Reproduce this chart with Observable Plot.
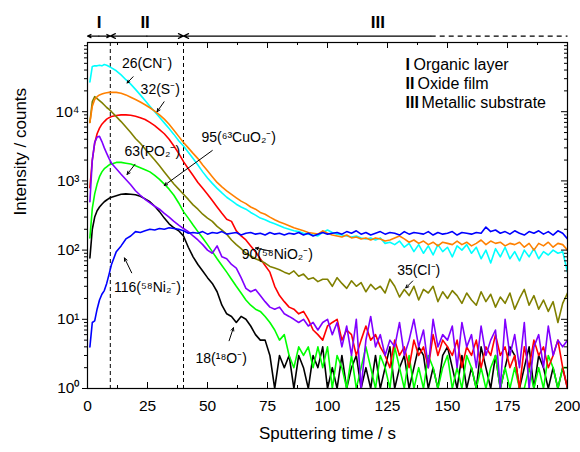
<!DOCTYPE html>
<html><head><meta charset="utf-8">
<script src="https://cdn.jsdelivr.net/npm/d3@7"></script>
<script src="https://cdn.jsdelivr.net/npm/@observablehq/plot@0.6"></script>
<style>body{margin:0;background:#fff;} svg{font-family:"Liberation Sans",Arial,sans-serif;}</style>
</head><body><div id="chart"></div>
<script>
// time axis (s): 1..10 every second, then every 2 s up to 200
const time = [...d3.range(1, 11), ...d3.range(12, 201, 2)];

const cn = [27000,45000,46000,46000,47000,46000,48000,47000,45000,43000,
 39000,34000,29000,25000,21000,17500,14500,12000,10000,8300,
 6900,5700,4700,3800,3200,2600,2100,1700,1350,1100,
 920,780,670,580,520,460,420,390,350,320,
 290,275,255,240,225,210,200,190,185,175,
 170,165,160,180,195,180,170,165,160,155,
 160,150,145,150,140,150,125,130,120,135,
 110,125,95,120,90,115,85,120,95,110,
 80,115,100,120,90,110,75,100,65,105,
 80,110,75,95,70,100,80,105,75,95,
 85,100,90,95,48];
const s32 = [7000,12000,15000,16500,17500,18000,18500,18800,19000,19000,
 19000,18500,17500,16200,15000,13800,12600,11400,10200,9000,
 7800,6600,5400,4400,3600,3000,2500,2100,1700,1400,
 1150,950,820,720,640,570,510,470,420,390,
 350,330,300,275,255,240,225,210,200,190,
 180,175,170,190,175,165,160,155,165,150,
 155,145,150,140,150,145,135,140,150,160,
 145,130,140,125,135,120,130,115,130,125,
 120,135,120,130,115,125,140,120,135,125,
 130,115,125,120,130,110,125,100,125,115,
 130,110,125,120,100];
const nio2 = [800,2000,3500,4800,5800,6600,7200,7800,8200,8500,
 8800,9000,9000,8900,8600,8200,7700,7000,6300,5500,
 4800,4000,3200,2500,1900,1500,1200,950,780,640,
 520,420,340,280,260,190,160,140,115,95,
 75,60,48,30,22,18,15,14,12,13,
 10,7,6,5,8,9,10,5,7,6,
 3,5,8,5,6,4,3,2,5,3,
 4,2,5,3,4,2,6,3,5,4,
 3,5,2,4,3,5,2,4,3,6,
 3,4,2,3,1,4,2,5,3,4,
 2,3,5,2,1];
const cl = [7000,14000,16500,15500,14500,13500,12500,11500,10800,10000,
 8500,7200,6000,5000,4100,3500,2900,2400,2000,1650,
 1350,1100,900,760,640,540,450,390,330,290,
 260,220,195,170,140,120,105,90,82,75,
 70,65,58,55,52,48,45,50,42,45,
 38,40,35,38,38,30,40,33,28,36,
 30,34,25,32,27,30,24,38,30,21,
 27,22,30,19,27,24,30,18,25,20,
 26,22,17,24,19,16,25,18,23,15,
 21,17,24,14,20,27,16,22,14,19,
 13,18,9,17,24];
const cuo2 = [150,400,650,900,1150,1350,1500,1600,1700,1750,
 1850,1850,1800,1750,1650,1550,1450,1350,1200,1050,
 900,760,620,480,360,290,230,185,150,120,
 95,75,60,48,38,30,24,19,16,14,
 13,11,9,7,5,6,3,2,4,3,
 4,2,4,2,4,1,3,2,1,3,
 1,2,4,2,1,3,2,1,4,2,
 1,3,1,2,1,3,2,1,2,3,
 1,2,1,3,2,1,2,1,2,3,
 1,2,1,2,1,1,2,1,2,1,
 3,2,1,2,2];
const po2 = [500,2000,3600,4300,4400,3700,3000,2500,2100,1800,
 1500,1250,1050,880,720,620,540,480,430,390,
 340,300,260,230,205,185,160,140,120,100,
 90,115,80,75,62,55,40,28,25,27,
 22,18,15,14,15,12,11,10,9,10,
 8,9,7,9,10,6,9,4,8,3,
 10,1,5,11,4,6,3,5,4,9,
 3,5,10,4,7,2,10,4,6,5,
 8,2,9,4,6,2,8,3,5,7,
 1,10,3,6,2,9,1,4,6,2,
 8,3,5,4,5];
const o18 = [77,200,300,370,420,460,500,530,560,580,
 610,640,650,640,630,600,550,500,430,360,
 290,240,210,190,160,110,80,62,50,40,
 33,25,16,12,11,9,11,10,8,6,
 5,5,3,1,3,2,3,1,3,2,
 1,3,2,4,1,2,1,3,1,2,
 3,1,2,1,3,1,2,4,1,2,
 3,1,2,4,3,1,2,1,3,4,
 2,1,3,1,2,1,4,2,1,3,
 1,2,4,3,1,2,4,1,3,2,
 1,2,1,2,1];
const ni2 = [4,9,9.5,14,19,23,26,33,45,62,
 95,115,145,160,185,180,190,200,195,205,
 200,210,205,200,190,175,180,175,185,170,
 180,175,185,170,175,180,165,175,180,170,
 175,165,180,170,175,165,175,170,180,165,
 175,160,170,180,170,175,180,170,185,175,
 190,170,180,165,175,185,170,180,175,165,
 185,170,180,175,170,185,165,180,170,175,
 185,165,180,175,170,180,175,215,185,195,
 175,185,170,190,175,165,185,175,190,170,
 185,165,190,175,145];

// drawing order and colours
const seriesKeys   = ["o18","cuo2","nio2","po2","cl","cn","s32","ni2"];
const seriesValues = [o18, cuo2, nio2, po2, cl, cn, s32, ni2];
const seriesColors = ["#000000","#00ff00","#ff0000","#8000ff","#808000","#00ffff","#ff8000","#0000ff"];

// annotations
const annText = ["26(CN⁻)","32(S⁻)","95(⁶³CuO₂⁻)","63(PO₂⁻)","90(⁵⁸NiO₂⁻)","35(Cl⁻)","116(⁵⁸Ni₂⁻)","18(¹⁸O⁻)"];
const annX = [24.8, 30.3, 63, 27, 79.1, 138, 25, 55.7];
const annY = [49000, 20700, 4200, 2700, 87, 50, 28.4, 2.7];
const annAnchor = ["middle","middle","middle","middle","start","middle","middle","middle"];
const arrX1 = [19, 31.9, 52, 19.8, 76.2, 135.5, 18.4, 59];
const arrY1 = [32000, 13900, 2750, 1740, 97, 35.8, 47, 4.9];
const arrX2 = [16.5, 29.0, 32, 16.5, 70, 132.6, 15.4, 60.8];
const arrY2 = [26000, 10000, 860, 1240, 107, 28.4, 77, 7.55];

// regions
const boundaries = [9.5, 40];
const regionLabels = ["I","II","III"];
const regionLabelX = [4.8, 24, 121];
const regionArrowFrom = [4.75, 4.75, 24.75, 24.75, 143];
const regionArrowTo   = [0, 9.5, 9.5, 40, 40];
const regionDashed = [143, 200];
const legendNum = ["I","II","III"];
const legendText = ["Organic layer","Oxide film","Metallic substrate"];
const legendY = [47500, 25000, 13400];
const legendDx = [8, 12, 16];

const xMajor = d3.range(0, 201, 25);
const xMinor = d3.range(12.5, 200, 25);
const yMajor = [1, 10, 100, 1000, 10000];
const yMinor = [];
for (const p of [1,10,100,1000,10000]) for (const k of [2,3,4,5,6,7,8,9]) yMinor.push(k*p);
const sup = ["⁰","¹","²","³","⁴","⁵"];

const W = 580, H = 452, mL = 87, mR = 13, mT = 42, mB = 64;
const innerW = W - mL - mR, innerH = H - mT - mB;
const yArrowRow = 1.24e5, yRegionLabel = 1.97e5;

const lines = seriesKeys.map((k, j) =>
  Plot.line(time.map((t, i) => ({t, v: seriesValues[j][i]})),
    {x: "t", y: "v", stroke: seriesColors[j], strokeWidth: 1.6, clip: true}));

const legendMarks = legendText.map((txt, i) => [
  Plot.text([legendNum[i]], {x: 132.5, y: legendY[i], text: d => d, fontWeight: "bold", fontSize: 16, textAnchor: "start"}),
  Plot.text([txt], {x: 132.5, y: legendY[i], text: d => d, dx: legendDx[i], fontSize: 16, textAnchor: "start"})
]).flat();

const idx8 = d3.range(annText.length);

const chart = Plot.plot({
  width: W, height: H,
  marginLeft: mL, marginRight: mR, marginTop: mT, marginBottom: mB,
  style: {fontFamily: "'Liberation Sans', Arial, sans-serif", background: "white", overflow: "visible", color: "black"},
  x: {domain: [0, 200]},
  y: {type: "log", domain: [1, 1e5]},
  marks: [
    Plot.ruleX(boundaries, {x: d => d, strokeDasharray: "4,3", strokeWidth: 1}),
    ...lines,
    Plot.frame({stroke: "black", strokeWidth: 1.2}),
    Plot.axisX({ticks: xMajor, tickSize: 0, tickPadding: 11, fontSize: 15.5, label: null, tickFormat: d => String(d)}),
    Plot.axisY({ticks: yMajor, tickSize: 5, tickPadding: 3, fontSize: 15.5, label: null,
      tickFormat: d => "10" + sup[Math.round(Math.log10(d))]}),
    Plot.axisY({ticks: yMinor, tickSize: 3, tickFormat: () => "", label: null}),
    Plot.tickX(xMajor, {x: d => d, insetTop: innerH - 6}),
    Plot.tickX(xMajor, {x: d => d, insetBottom: innerH - 6}),
    Plot.tickX(xMinor, {x: d => d, insetTop: innerH - 3}),
    Plot.tickX(xMinor, {x: d => d, insetBottom: innerH - 3}),
    Plot.tickY(yMajor, {y: d => d, insetLeft: innerW - 6}),
    Plot.tickY(yMinor, {y: d => d, insetLeft: innerW - 3}),
    Plot.text(["Sputtering time / s"], {frameAnchor: "bottom", dy: 50, fontSize: 17}),
    Plot.text(["Intensity / counts"], {frameAnchor: "left", dx: -67, rotate: -90, fontSize: 17}),
    // annotations
    Plot.arrow(idx8, {x1: i => arrX1[i], y1: i => arrY1[i], x2: i => arrX2[i], y2: i => arrY2[i],
      stroke: "black", strokeWidth: 1, headLength: 5, headAngle: 50}),
    Plot.text(idx8, {x: i => annX[i], y: i => annY[i], text: i => annText[i], textAnchor: i => annAnchor[i], fontSize: 14}),
    // regions row
    Plot.arrow(d3.range(regionArrowFrom.length), {x1: i => regionArrowFrom[i], x2: i => regionArrowTo[i],
      y1: yArrowRow, y2: yArrowRow, stroke: "black", strokeWidth: 1.2, headLength: 7, headAngle: 50}),
    Plot.link([0], {x1: regionDashed[0], x2: regionDashed[1], y1: yArrowRow, y2: yArrowRow,
      stroke: "black", strokeWidth: 1.2, strokeDasharray: "5,4"}),
    Plot.text(regionLabels, {x: (d, i) => regionLabelX[i], y: yRegionLabel, text: d => d, fontWeight: "bold", fontSize: 17}),
    // legend
    ...legendMarks
  ]
});
document.getElementById("chart").append(chart);
</script>
</body></html>
